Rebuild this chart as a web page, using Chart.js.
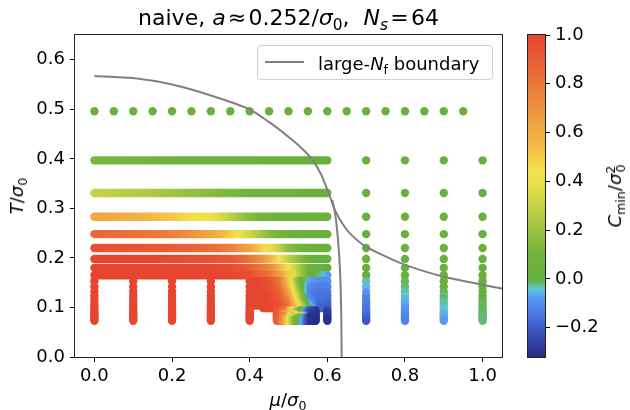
<!DOCTYPE html>
<html>
<head>
<meta charset="utf-8">
<script src="https://cdn.jsdelivr.net/npm/chart.js@4.4.0/dist/chart.umd.min.js"></script>
<style>
  body { margin: 0; background: #fff; font-family: "DejaVu Sans", sans-serif; }
  #wrap { position: relative; width: 630px; height: 410px; overflow: hidden; }
  canvas { position: absolute; top: 0; }
  .lbl { position: absolute; white-space: nowrap; color: #000; line-height: 1; }
  .sub { font-size: 0.7em; position: relative; top: 0.3em; }
  .sup { font-size: 0.7em; position: relative; top: -0.45em; }
  .rot { transform: translate(-50%, -50%) rotate(-90deg); }
  #legend { position: absolute; left: 257px; top: 45px; width: 234px; height: 33px;
    border: 1px solid #d0d0d0; border-radius: 4px; background: rgba(255,255,255,0.8); }
  #legend .swatch { position: absolute; left: 7px; top: 15px; width: 39px; height: 2px; background: #808080; }
  #legend .txt { position: absolute; left: 60px; top: 7px; font-size: 18px; white-space: nowrap; }
</style>
</head>
<body>
<div id="wrap">
  <canvas id="main" width="630" height="410" style="left:0"></canvas>
  <canvas id="cbar" width="110" height="410" style="left:520px"></canvas>

  <div class="lbl" style="left:0;width:577px;text-align:center;top:7px;font-size:22px">
    naive, <i>a</i>&#8202;≈&#8202;0.252/<i>σ</i><span class="sub">0</span>,&nbsp; <i>N</i><span class="sub"><i>s</i></span>&#8202;=&#8202;64
  </div>
  <div class="lbl" style="left:288px;top:391px;transform:translateX(-50%);font-size:18px">
    <i>μ</i>/<i>σ</i><span class="sub">0</span>
  </div>
  <div class="lbl rot" style="left:17px;top:196px;font-size:18px">
    <i>T</i>/<i>σ</i><span class="sub">0</span>
  </div>
  <div class="lbl rot" style="left:615px;top:196px;font-size:18px">
    <i>C</i><span class="sub">min</span>/<i>σ</i><span class="sup">2</span><span class="sub" style="margin-left:-0.55em">0</span>
  </div>
  <div id="legend">
    <div class="swatch"></div>
    <div class="txt">large-<i>N</i><span class="sub">f</span> boundary</div>
  </div>
</div>

<script>
// temperature rows (T/sigma0), top to bottom
const Ts = [0.397, 0.331, 0.283, 0.248, 0.220, 0.198, 0.180, 0.165,
  0.153, 0.142, 0.132, 0.124, 0.117, 0.110, 0.104, 0.099,
  0.094, 0.090, 0.086, 0.083, 0.079, 0.076, 0.073];

// sparse top row at T = 0.496
const topRowT = 0.496;
const topRowMu = [0, 0.05, 0.1, 0.15, 0.2, 0.25, 0.3, 0.35, 0.4, 0.45,
  0.5, 0.55, 0.6, 0.65, 0.7, 0.75, 0.8, 0.85, 0.9, 0.95];
const topRowC = [0.04, 0.04, 0.04, 0.04, 0.04, 0.04, 0.04, 0.04, 0.04, 0.04,
  0.04, 0.04, 0.04, 0.04, 0.04, 0.04, 0.04, 0.04, 0.04, 0.04];

// dense rows, mu from 0 to 0.6
const stripMu = [0, 0.05, 0.1, 0.15, 0.2, 0.25, 0.3, 0.35, 0.4, 0.45, 0.5, 0.55, 0.6];
const c397 = [0.12, 0.11, 0.1, 0.09, 0.08, 0.07, 0.06, 0.05, 0.05, 0.04, 0.04, 0.04, 0.04];
const c331 = [0.3, 0.28, 0.26, 0.24, 0.21, 0.18, 0.15, 0.12, 0.09, 0.07, 0.05, 0.04, 0.04];
const c283 = [0.62, 0.6, 0.58, 0.55, 0.51, 0.46, 0.4, 0.28, 0.15, 0.08, 0.05, 0.04, 0.04];
const c248 = [0.85, 0.84, 0.82, 0.8, 0.76, 0.7, 0.62, 0.5, 0.32, 0.15, 0.06, 0.04, 0.04];
const c220 = [0.95, 0.94, 0.93, 0.92, 0.9, 0.88, 0.84, 0.76, 0.62, 0.42, 0.15, 0.05, 0.03];
const c198 = [1, 1, 1, 1, 0.98, 0.97, 0.95, 0.92, 0.82, 0.6, 0.28, 0.06, 0.02];
const c180 = [1, 1, 1, 1, 1, 1, 1, 0.97, 0.9, 0.75, 0.42, 0.08, 0.0];
const c165 = [1, 1, 1, 1, 1, 1, 1, 1, 0.95, 0.82, 0.5, 0.05, -0.08];

// lower block, mu from 0.4 to 0.6
const blobMu = [0.4, 0.425, 0.45, 0.475, 0.5, 0.525, 0.55, 0.575, 0.6];
const c153 = [1, 1, 0.95, 0.82, 0.5, 0.1, -0.06, -0.1, -0.1];
const c142 = [1, 1, 0.96, 0.85, 0.55, 0.15, -0.1, -0.13, -0.12];
const c132 = [1, 1, 0.97, 0.88, 0.6, 0.2, -0.12, -0.14, -0.14];
const c124 = [1, 1, 0.98, 0.9, 0.65, 0.25, -0.12, -0.15, -0.15];
const c117 = [1, 1, 1, 0.92, 0.7, 0.3, -0.1, -0.15, -0.16];
const c110 = [1, 1, 1, 0.94, 0.75, 0.35, -0.08, -0.16, -0.17];
const c104 = [1, 1, 1, 0.95, 0.78, 0.4, 0, -0.17, -0.19];
const blobMu99 = [0.435, 0.45, 0.475, 0.5, 0.525, 0.55, 0.575, 0.6];
const c099 = [1, 1, 0.96, 0.8, 0.45, 0.05, -0.18, -0.2];

// lowest rows, mu from 0.47 to 0.57
const tailMu = [0.47, 0.49, 0.51, 0.53, 0.55, 0.57];
const c094 = [0.95, 0.8, 0.4, 0.1, -0.2, -0.28];
const c090 = [0.95, 0.75, 0.3, 0.0, -0.25, -0.3];
const c086 = [0.9, 0.6, 0.5, 0.05, -0.27, -0.3];
const c083 = [0.92, 0.7, 0.25, 0.6, -0.28, -0.3];
const c079 = [0.9, 0.65, 0.35, -0.05, -0.3, -0.3];
const c076 = [0.92, 0.6, 0.2, 0.0, -0.3, -0.31];
const c073 = [0.9, 0.55, 0.15, -0.05, -0.3, -0.31];

const stripMuByRow = [stripMu, stripMu, stripMu, stripMu, stripMu, stripMu, stripMu, stripMu,
  blobMu, blobMu, blobMu, blobMu, blobMu, blobMu, blobMu, blobMu99,
  tailMu, tailMu, tailMu, tailMu, tailMu, tailMu, tailMu];
const stripCByRow = [c397, c331, c283, c248, c220, c198, c180, c165,
  c153, c142, c132, c124, c117, c110, c104, c099,
  c094, c090, c086, c083, c079, c076, c073];

// single columns in the low-T part (rows 0.153 .. 0.073)
const leftColMu = [0, 0.1, 0.2, 0.3];
const leftColC = [1, 1, 1, 1, 1, 1, 1, 1, 1, 1, 1, 1, 1, 1, 1];
const col40Low = [1, 1, 1, 1, 1, 1, 1, 1];            // mu = 0.4, rows 0.099 .. 0.073
const col60Low = [-0.25, -0.27, -0.28, -0.28, -0.29, -0.3, -0.3]; // mu = 0.6, rows 0.094 .. 0.073

// right columns, every row
const rightColMu = [0.7, 0.8, 0.9, 1.0];
const col70 = [0.03, 0.03, 0.03, 0.03, 0.03, 0.03, 0.02, 0.0, -0.03, -0.05, -0.08, -0.1,
  -0.12, -0.13, -0.14, -0.14, -0.15, -0.15, -0.16, -0.17, -0.18, -0.19, -0.21];
const col80 = [0.03, 0.03, 0.03, 0.03, 0.03, 0.03, 0.03, 0.01, -0.01, -0.02, -0.03, -0.04,
  -0.05, -0.06, -0.07, -0.08, -0.09, -0.1, -0.1, -0.11, -0.11, -0.12, -0.12];
const col90 = [0.03, 0.03, 0.03, 0.03, 0.03, 0.03, 0.03, 0.03, 0.02, 0.0, -0.01, -0.02,
  -0.02, -0.03, -0.03, -0.04, -0.04, -0.05, -0.05, -0.06, -0.06, -0.07, -0.08];
const col100 = [0.03, 0.03, 0.03, 0.03, 0.03, 0.03, 0.03, 0.03, 0.03, 0.02, 0.01, 0.0,
  0.0, -0.01, -0.01, -0.01, -0.01, -0.01, -0.02, -0.02, -0.02, -0.02, -0.02];

// large-Nf boundary (arc + crossover branch, and the first-order branch)
const boundMu = [0, 0.1, 0.2, 0.3, 0.4, 0.454, 0.51, 0.54, 0.562, 0.583, 0.595, 0.603, 0.61,
  0.616, 0.625, 0.64, 0.66, 0.695, 0.75, 0.8, 0.9, 1.0, 1.05];
const boundT = [0.567, 0.563, 0.55, 0.528, 0.5, 0.472, 0.438, 0.417, 0.398, 0.37, 0.348, 0.331, 0.317,
  0.303, 0.288, 0.268, 0.248, 0.225, 0.203, 0.186, 0.162, 0.146, 0.138];
const firstOrderMu = [0.613, 0.62, 0.626, 0.631, 0.634, 0.636, 0.637];
const firstOrderT = [0.317, 0.29, 0.25, 0.2, 0.149, 0.08, 0.0];

const xTicks = [0, 0.2, 0.4, 0.6, 0.8, 1.0];
const yTicks = [0, 0.1, 0.2, 0.3, 0.4, 0.5, 0.6];
const cbarTicks = [-0.2, 0, 0.2, 0.4, 0.6, 0.8, 1.0];
const cMin = -0.32, cMax = 1.0;

// colour map
const cmapStops = [
  [-0.32, [38, 42, 130]], [-0.2, [62, 92, 200]], [-0.12, [80, 130, 235]],
  [-0.07, [90, 160, 245]], [-0.04, [95, 198, 210]], [-0.02, [100, 185, 115]],
  [0.0, [100, 175, 60]], [0.1, [115, 180, 60]], [0.2, [155, 195, 65]],
  [0.3, [200, 210, 70]], [0.4, [235, 225, 75]], [0.45, [245, 225, 75]],
  [0.55, [242, 185, 68]], [0.7, [238, 145, 62]], [0.85, [234, 105, 55]], [1.0, [230, 70, 48]]
];
function cmap(v) {
  v = Math.max(cMin, Math.min(cMax, v));
  for (let i = 1; i < cmapStops.length; i++) {
    const [v1, c1] = cmapStops[i];
    if (v <= v1) {
      const [v0, c0] = cmapStops[i - 1];
      const t = (v - v0) / (v1 - v0);
      const c = c0.map((a, k) => Math.round(a + (c1[k] - a) * t));
      return "rgb(" + c.join(",") + ")";
    }
  }
  return "rgb(230,70,48)";
}

function rowGradient(chart, mus, cs) {
  const xs = chart.scales.x;
  if (!chart.chartArea || !xs) return cmap(cs[0]);
  const x0 = xs.getPixelForValue(mus[0]);
  const x1 = xs.getPixelForValue(mus[mus.length - 1]);
  const g = chart.ctx.createLinearGradient(x0, 0, x1, 0);
  for (let i = 0; i < mus.length; i++) {
    const p = (xs.getPixelForValue(mus[i]) - x0) / (x1 - x0);
    g.addColorStop(p, cmap(cs[i]));
    if (i < mus.length - 1) {
      const pn = (xs.getPixelForValue(mus[i + 1]) - x0) / (x1 - x0);
      for (let k = 1; k < 4; k++) {
        g.addColorStop(p + (pn - p) * k / 4, cmap(cs[i] + (cs[i + 1] - cs[i]) * k / 4));
      }
    }
  }
  return g;
}

const DOT = 4.2;
const datasets = [];

// top sparse row
datasets.push({
  data: topRowMu.map((m) => ({ x: m, y: topRowT })),
  backgroundColor: topRowC.map(cmap),
  pointRadius: DOT, borderWidth: 0,
  order: 1,
});

Ts.forEach((T, i) => {
  const mus = stripMuByRow[i], cs = stripCByRow[i];
  datasets.push({
    data: mus.map((m) => ({ x: m, y: T })),
    showLine: true, pointRadius: 0,
    borderWidth: DOT * 2, borderCapStyle: "round",
    borderColor: (ctx) => rowGradient(ctx.chart, mus, cs),
    order: -i,
  });
  const pts = [], cols = [];
  if (i >= 8) leftColMu.forEach((m) => { pts.push({ x: m, y: T }); cols.push(cmap(leftColC[i - 8])); });
  if (i >= 15) { pts.push({ x: 0.4, y: T }); cols.push(cmap(col40Low[i - 15])); }
  if (i >= 16) { pts.push({ x: 0.6, y: T }); cols.push(cmap(col60Low[i - 16])); }
  [col70, col80, col90, col100].forEach((col, k) => {
    pts.push({ x: rightColMu[k], y: T }); cols.push(cmap(col[i]));
  });
  datasets.push({
    data: pts, backgroundColor: cols,
    pointRadius: DOT, borderWidth: 0,
    order: -i,
  });
});

datasets.push({
  data: boundMu.map((m, i) => ({ x: m, y: boundT[i] })),
  showLine: true, pointRadius: 0, borderColor: "#808080", borderWidth: 2,
  tension: 0.2, order: -100,
});
datasets.push({
  data: firstOrderMu.map((m, i) => ({ x: m, y: firstOrderT[i] })),
  showLine: true, pointRadius: 0, borderColor: "#808080", borderWidth: 2,
  tension: 0.2, order: -100,
});

const frame = {
  id: "frame",
  afterDatasetsDraw(chart) {
    const { ctx, chartArea: a } = chart;
    ctx.save();
    ctx.strokeStyle = "#222";
    ctx.lineWidth = 1;
    const l = Math.round(a.left) - 0.5, t = Math.round(a.top) - 0.5;
    ctx.strokeRect(l, t, Math.round(a.right) - Math.round(a.left) + 1, Math.round(a.bottom) - Math.round(a.top) + 1);
    ctx.restore();
  },
};

const tickFont = { family: "DejaVu Sans", size: 18 };
const fmt = (v) => Number(v).toFixed(1).replace("-", "\u2212");

new Chart(document.getElementById("main"), {
  type: "scatter",
  data: { datasets: datasets },
  options: {
    responsive: false,
    animation: false,
    layout: { padding: { left: 0, right: 128, top: 35, bottom: 0 } },
    plugins: { legend: { display: false }, tooltip: { enabled: false } },
    scales: {
      x: {
        type: "linear", min: -0.05, max: 1.05,
        afterBuildTicks: (s) => { s.ticks = xTicks.map((v) => ({ value: v })); },
        afterFit: (s) => { s.height = 53; },
        ticks: { callback: fmt, font: tickFont, color: "#000", padding: 4, maxRotation: 0 },
        grid: { drawOnChartArea: false, drawTicks: true, tickLength: 5, tickColor: "#000" },
        border: { display: false },
      },
      y: {
        type: "linear", min: 0, max: 0.65,
        afterBuildTicks: (s) => { s.ticks = yTicks.map((v) => ({ value: v })); },
        afterFit: (s) => { s.width = 75; },
        ticks: { callback: fmt, font: tickFont, color: "#000", padding: 5 },
        grid: { drawOnChartArea: false, drawTicks: true, tickLength: 5, tickColor: "#000" },
        border: { display: false },
      },
    },
  },
  plugins: [frame],
});

// colour bar
new Chart(document.getElementById("cbar"), {
  type: "bar",
  data: {
    labels: [""],
    datasets: [{
      data: [[cMin, cMax]],
      backgroundColor: (ctx) => {
        const ys = ctx.chart.scales.y;
        if (!ctx.chart.chartArea || !ys) return cmap(0.5);
        const y0 = ys.getPixelForValue(cMin), y1 = ys.getPixelForValue(cMax);
        const g = ctx.chart.ctx.createLinearGradient(0, y0, 0, y1);
        cmapStops.forEach(([v]) => g.addColorStop((v - cMin) / (cMax - cMin), cmap(v)));
        return g;
      },
      borderWidth: 0, barPercentage: 1, categoryPercentage: 1,
    }],
  },
  options: {
    responsive: false,
    animation: false,
    layout: { padding: { left: 8, right: 0, top: 35, bottom: 53 } },
    plugins: { legend: { display: false }, tooltip: { enabled: false } },
    scales: {
      x: { display: false },
      y: {
        position: "right", min: cMin, max: cMax,
        afterBuildTicks: (s) => { s.ticks = cbarTicks.map((v) => ({ value: v })); },
        afterFit: (s) => { s.width = 85; },
        ticks: { callback: fmt, font: tickFont, color: "#000", padding: 5 },
        grid: { drawOnChartArea: false, drawTicks: true, tickLength: 5, tickColor: "#000" },
        border: { display: false },
      },
    },
  },
  plugins: [frame],
});
</script>
</body>
</html>
